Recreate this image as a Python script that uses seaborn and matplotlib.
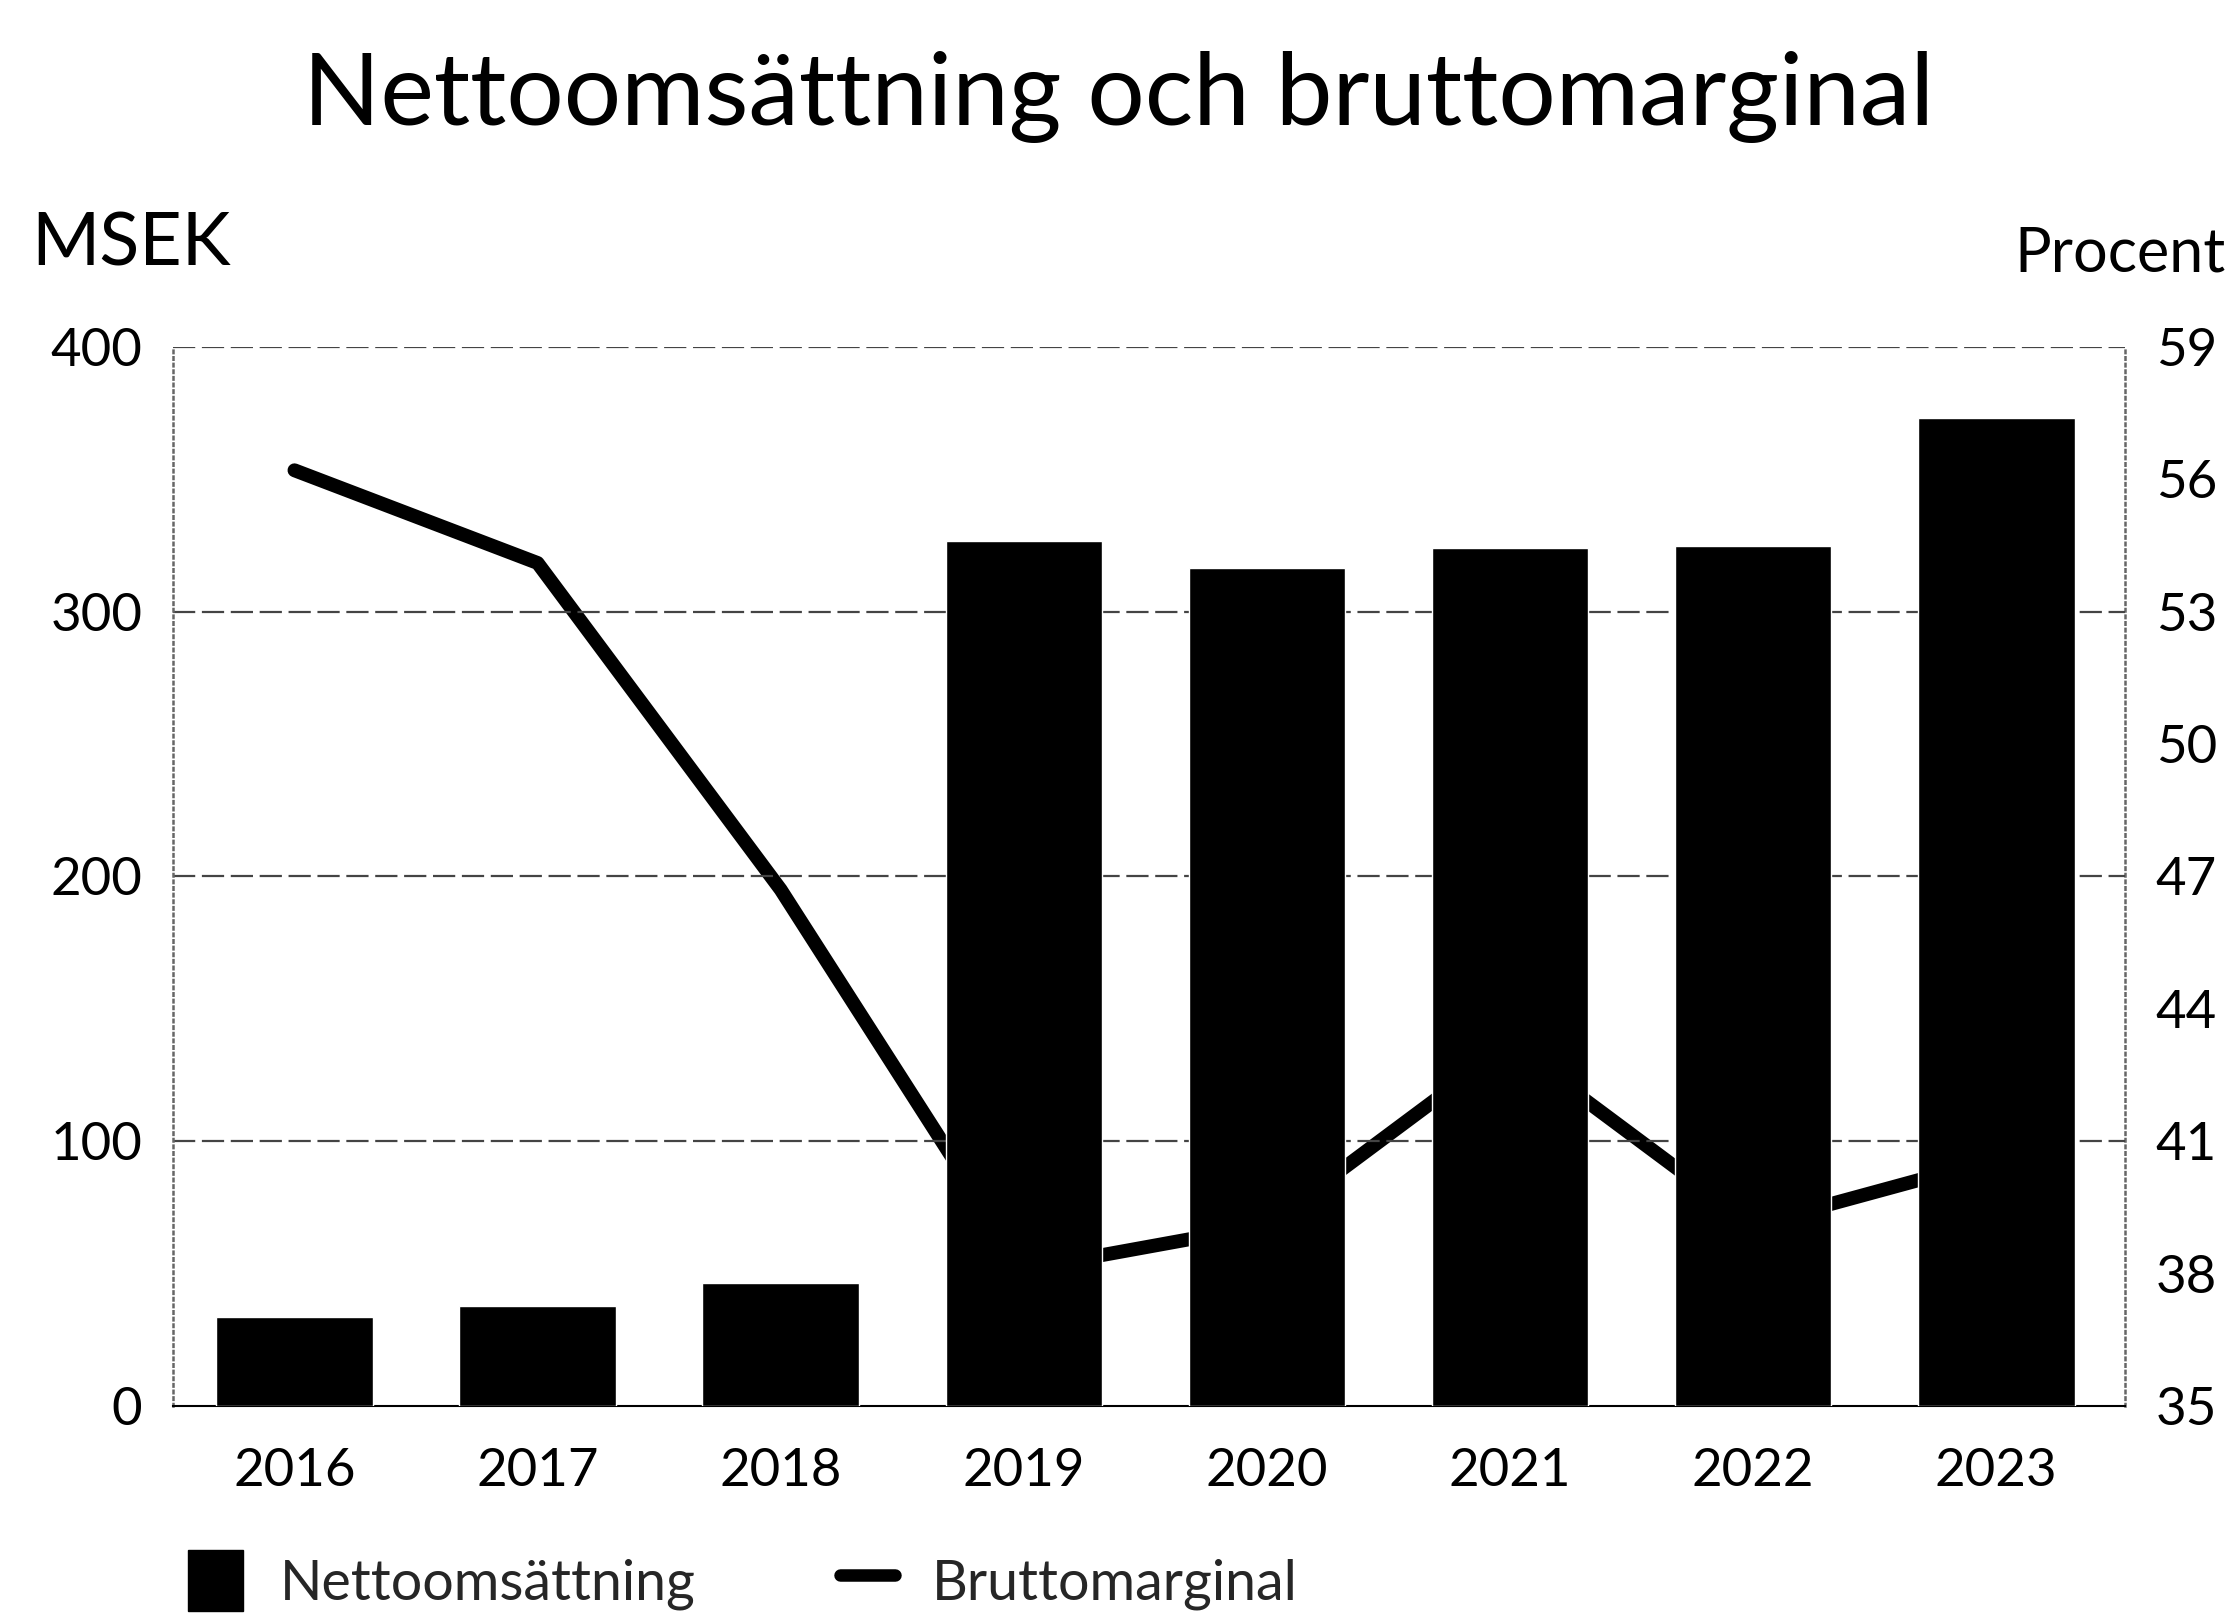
import matplotlib
matplotlib.use('Agg')
import matplotlib.pyplot as plt
import numpy as np
import pandas as pd
import seaborn as sns
from matplotlib.patches import Patch
from matplotlib.lines import Line2D

# ── Data ──────────────────────────────────────────────────────────────────────
years = ['2016', '2017', '2018', '2019', '2020', '2021', '2022', '2023']
nettoomsattning = [33.7, 37.9, 46.5, 326.8, 316.5, 324.0, 324.6, 373.0]   # MSEK
bruttomarginal = [56.2, 54.1, 46.7, 38.1, 39.1, 43.2, 39.1, 40.6]          # procent

left_ticks = [0, 100, 200, 300, 400]
right_ticks = [35, 38, 41, 44, 47, 50, 53, 56, 59]

df = pd.DataFrame({'year': years, 'netto': nettoomsattning, 'marginal': bruttomarginal})

# ── Style ─────────────────────────────────────────────────────────────────────
sns.set_theme(style='white')
plt.rcParams['font.family'] = ['Lato', 'DejaVu Sans']

fig = plt.figure(figsize=(22.37, 16.2), dpi=100)
ax = fig.add_axes([0.0773, 0.132, 0.8727, 0.654])
ax2 = ax.twinx()

# Staplar på primäraxeln (ritas ovanför linjen), linjen på tvillingaxeln
sns.barplot(data=df, x='year', y='netto', color='black', width=0.644,
            saturation=1, ax=ax, zorder=3)
sns.lineplot(x=np.arange(len(years)), y=df['marginal'], color='black',
             linewidth=10, ax=ax2, solid_capstyle='round', solid_joinstyle='round')

ax.set_zorder(ax2.get_zorder() + 1)
ax.patch.set_visible(False)

ax.set_xlim(-0.5, 7.53)
ax.set_ylim(0, 400)
ax2.set_ylim(35, 59)
ax.set_yticks(left_ticks)
ax2.set_yticks(right_ticks)
ax.set_xlabel('')
ax.set_ylabel('')
ax2.set_ylabel('')

# stödlinjer vid vänsteraxelns ticks
for v in left_ticks[1:]:
    ax.axhline(v, color='#444444', lw=1.6, ls=(0, (10, 3)), zorder=1)

ax.tick_params(axis='y', length=0, pad=22, labelsize=38, labelcolor='black')
ax.tick_params(axis='x', length=0, pad=30, labelsize=38, labelcolor='black')
ax2.tick_params(axis='y', length=0, pad=22, labelsize=38, labelcolor='black')

for a in (ax, ax2):
    for s in a.spines.values():
        s.set_visible(False)
ax.spines['bottom'].set_visible(True)
ax.spines['bottom'].set_color('black')
ax.spines['bottom'].set_linewidth(1.5)
ax.spines['left'].set_visible(True)
ax.spines['left'].set_color('#666666')
ax.spines['left'].set_linestyle(':')
ax.spines['left'].set_linewidth(1.8)
ax2.spines['right'].set_visible(True)
ax2.spines['right'].set_color('#666666')
ax2.spines['right'].set_linestyle(':')
ax2.spines['right'].set_linewidth(1.8)

# ── Rubriker ──────────────────────────────────────────────────────────────────
fig.text(0.5, 0.94, 'Nettoomsättning och bruttomarginal', ha='center', va='center',
         fontsize=73, color='black')
fig.text(0.014, 0.849, 'MSEK', ha='left', va='center', fontsize=53, color='black')
fig.text(0.995, 0.843, 'Procent', ha='right', va='center', fontsize=44, color='black')

# ── Förklaring ────────────────────────────────────────────────────────────────
handles = [Patch(facecolor='black', edgecolor='black'),
           Line2D([0], [0], color='black', lw=9)]
fig.legend(handles, ['Nettoomsättning', 'Bruttomarginal'], loc='lower left',
           bbox_to_anchor=(0.074, -0.008), ncol=2, frameon=False, fontsize=40,
           handlelength=1.0, handleheight=1.3, handletextpad=0.65, columnspacing=2.6,
           borderaxespad=0)

fig.savefig('out.png', dpi=100)
